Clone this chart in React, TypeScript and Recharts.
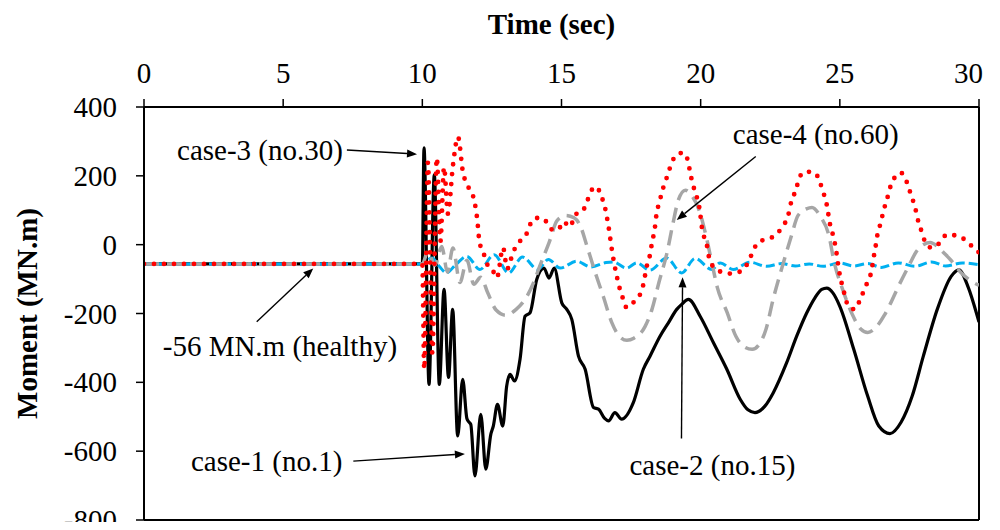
import React from 'react';
import { LineChart, Line, XAxis, YAxis, ReferenceLine } from 'recharts';

type Pt = [number, number];

const timeTicks = [0, 5, 10, 15, 20, 25, 30];
const momentTicks = [-800, -600, -400, -200, 0, 200, 400];

// [time (sec), moment (MN.m)]
const case1: Pt[] = [
  [0, -56], [10, -56], [10.06, 281], [10.24, -406], [10.43, 203], [10.61, -406],
  [10.78, -130], [10.94, -386], [11.09, -188], [11.27, -556], [11.45, -391],
  [11.6, -505], [11.67, -515], [11.74, -522], [11.89, -672], [12.1, -493],
  [12.28, -652], [12.46, -551], [12.55, -527], [12.7, -464], [12.89, -527],
  [13.03, -411], [13.15, -377], [13.31, -396], [13.51, -333], [13.69, -208],
  [13.87, -198], [14.11, -101], [14.37, -68], [14.55, -97], [14.74, -68],
  [15.01, -169], [15.19, -188], [15.37, -217], [15.61, -324], [15.85, -362],
  [16.15, -473], [16.33, -478], [16.55, -505], [16.69, -512], [16.92, -488],
  [17.16, -507], [17.58, -459], [17.94, -362], [18.18, -324], [18.54, -266],
  [18.84, -227], [19.14, -188], [19.3, -175], [19.56, -159], [19.98, -208],
  [20.46, -285], [20.94, -362], [21.42, -449], [21.7, -480], [21.95, -488],
  [22.3, -470], [22.61, -430], [23.09, -343], [23.45, -266], [23.8, -200],
  [24.1, -155], [24.35, -130], [24.53, -126], [24.75, -140], [25.0, -179],
  [25.5, -304], [26.0, -440], [26.4, -527], [26.8, -549], [27.2, -516],
  [27.6, -440], [28.0, -324], [28.5, -188], [29.0, -92], [29.28, -73],
  [29.6, -121], [30, -225],
];

const case2: Pt[] = [
  [0, -56], [10, -56], [10.1, -50], [10.34, -39], [10.6, -62], [10.87, -82],
  [11.2, -58], [11.6, -34], [12.07, -72], [12.58, -29], [13.1, -82], [13.6, -36],
  [14.15, -72], [14.53, -43], [14.95, -68], [15.55, -48], [16.05, -65], [16.6, -52],
  [16.86, -50], [17.34, -68], [17.7, -53], [18.18, -74], [18.78, -39], [19.32, -82],
  [19.8, -40], [20.4, -72], [20.7, -53], [21.17, -72], [21.77, -51], [22.37, -63],
  [22.9, -55], [23.4, -62], [23.9, -56], [24.4, -63], [25.0, -53], [25.5, -62],
  [26.0, -55], [26.5, -66], [27.1, -53], [27.7, -63], [28.3, -50], [28.8, -62],
  [29.4, -53], [30, -58],
];

const case3: Pt[] = [
  [0, -56], [10, -56], [10.07, -362], [10.2, 238], [10.36, -315], [10.52, 252],
  [10.65, 10], [10.78, 225], [10.92, 90], [11.1, 230], [11.28, 313], [11.46, 210],
  [11.65, 168], [11.86, 130], [11.97, 75], [12.05, 10], [12.2, -25], [12.35, -60],
  [12.5, -70], [12.68, -96], [12.9, -9], [13.05, -70], [13.27, -20], [13.5, 9],
  [13.8, 40], [13.95, 72], [14.2, 78], [14.4, 72], [14.62, 45], [14.88, 43],
  [15.06, 67], [15.31, 52], [15.49, 87], [15.74, 96], [15.92, 125], [16.03, 151],
  [16.24, 168], [16.44, 139], [16.57, 105], [16.69, 52], [16.82, -20], [16.99, -93],
  [17.1, -130], [17.22, -159], [17.34, -183], [17.58, -168], [17.82, -145],
  [17.94, -116], [18.06, -64], [18.18, -29], [18.24, 0], [18.36, 52], [18.42, 93],
  [18.52, 122], [18.6, 151], [18.72, 180], [18.84, 209], [18.96, 238], [19.14, 261],
  [19.38, 267], [19.56, 238], [19.62, 209], [19.71, 180], [19.8, 151], [19.92, 122],
  [19.98, 93], [20.04, 52], [20.1, 29], [20.22, 0], [20.28, -29], [20.4, -58],
  [20.52, -67], [20.7, -78], [21.06, -84], [21.42, -78], [21.66, -58], [21.83, -29],
  [22.0, 0], [22.25, 14], [22.61, 23], [22.91, 49], [23.15, 87], [23.27, 130],
  [23.45, 165], [23.51, 188], [23.75, 212], [24.1, 209], [24.29, 180], [24.41, 151],
  [24.53, 116], [24.59, 87], [24.65, 58], [24.75, 29], [24.83, 0], [24.89, -29],
  [24.95, -64], [25.01, -93], [25.1, -122], [25.19, -151], [25.31, -180],
  [25.55, -188], [25.73, -159], [25.91, -125], [26.03, -101], [26.15, -72],
  [26.2, -43], [26.27, -14], [26.33, 20], [26.42, 49], [26.51, 78], [26.6, 107],
  [26.69, 130], [26.78, 159], [26.92, 188], [27.19, 209], [27.4, 183], [27.52, 154],
  [27.64, 125], [27.74, 96], [27.82, 67], [27.94, 38], [28.06, 9], [28.3, -9],
  [28.6, 6], [28.84, 29], [29.2, 26], [29.5, 14], [29.8, -9], [30, -23],
];

const case4: Pt[] = [
  [0, -56], [10, -56], [10.2, -20], [10.45, -60], [10.7, -5], [10.9, -80],
  [11.1, -10], [11.35, -110], [11.6, -45], [11.85, -115], [12.1, -95], [12.35, -140],
  [12.65, -190], [13.0, -205], [13.37, -188], [13.73, -154], [14.0, -110],
  [14.23, -60], [14.55, 5], [14.84, 70], [15.15, 85], [15.45, 78], [15.7, 50],
  [15.88, 5], [16.2, -78], [16.5, -150], [16.8, -225], [17.1, -268], [17.35, -278],
  [17.6, -272], [18.0, -238], [18.25, -188], [18.5, -110], [18.8, -20], [19.0, 60],
  [19.2, 130], [19.45, 158], [19.7, 140], [19.95, 99], [20.2, 23], [20.4, -52],
  [20.6, -125], [20.95, -197], [21.27, -267], [21.55, -296], [21.85, -304],
  [22.1, -290], [22.35, -245], [22.6, -160], [22.93, -64], [23.25, 23], [23.5, 85],
  [23.8, 104], [24.0, 108], [24.3, 82], [24.6, 29], [24.8, -52], [25.1, -130],
  [25.45, -203], [25.75, -245], [26.0, -255], [26.3, -240], [26.6, -205],
  [26.8, -174], [27.1, -122], [27.5, -58], [27.75, -20], [28.0, 0], [28.25, 6],
  [28.5, -5], [28.75, -25], [29.0, -46], [29.35, -81], [29.8, -110], [30, -118],
];

// Callout labels: arrow tail -> arrow tip in (time, moment) units
type Note = {
  text: string;
  from: Pt;
  to: Pt;
  anchor: 'start' | 'end';
  dx: number;
  dy: number;
};

const notes: Note[] = [
  { text: 'case-3 (no.30)', from: [7.29, 275], to: [9.81, 263], anchor: 'end', dx: -4, dy: 10 },
  { text: 'case-4 (no.60)', from: [21.98, 256], to: [19.14, 72], anchor: 'start', dx: -23, dy: -13 },
  { text: 'case-2 (no.15)', from: [19.31, -563], to: [19.35, -95], anchor: 'start', dx: -52, dy: 37 },
  { text: '-56 MN.m (healthy)', from: [4.05, -224], to: [6.08, -69], anchor: 'start', dx: -94, dy: 34 },
  { text: 'case-1 (no.1)', from: [7.52, -629], to: [11.53, -608], anchor: 'end', dx: -11, dy: 10 },
];

const FONT = "'Liberation Serif', 'Times New Roman', serif";
const FS = 29;
const textStyle: React.CSSProperties = { fontFamily: FONT, fontSize: FS, fill: '#000' };
const boldStyle: React.CSSProperties = { ...textStyle, fontWeight: 'bold' };

const rows = (pts: Pt[]) => pts.map(([t, m]) => ({ t, m }));

const arrowShape = (note: Note) => (p: any) => {
  const { x1, y1, x2, y2 } = p;
  const ang = Math.atan2(y2 - y1, x2 - x1);
  const L = 10;
  const W = 4;
  const bx = x2 - L * Math.cos(ang);
  const by = y2 - L * Math.sin(ang);
  const s = Math.sin(ang);
  const c = Math.cos(ang);
  const head = `${x2},${y2} ${bx - W * s},${by + W * c} ${bx + W * s},${by - W * c}`;
  return (
    <g>
      <line x1={x1} y1={y1} x2={bx} y2={by} stroke="#000" strokeWidth={1.4} />
      <polygon points={head} fill="#000" />
      <text x={x1 + note.dx} y={y1 + note.dy} textAnchor={note.anchor} style={textStyle}>
        {note.text}
      </text>
    </g>
  );
};

const TimeTick = (props: any) => {
  const { x, y, payload } = props;
  const last = payload.value === 30;
  return (
    <text x={last ? x + 4 : x} y={y} textAnchor={last ? 'end' : 'middle'} style={textStyle}>
      {payload.value}
    </text>
  );
};

const MomentTick = (props: any) => {
  const { x, y, payload } = props;
  return (
    <text x={x} y={y} dy="0.35em" textAnchor="end" style={textStyle}>
      {payload.value}
    </text>
  );
};

const TimeTitle = (props: any) => {
  const vb = props.viewBox;
  return (
    <text x={vb.x + vb.width / 2 - 10} y={vb.y - 13} textAnchor="middle" style={boldStyle}>
      Time (sec)
    </text>
  );
};

const MomentTitle = (props: any) => {
  const vb = props.viewBox;
  const x = vb.x - 7;
  const y = vb.y + vb.height / 2;
  return (
    <text x={x} y={y} transform={`rotate(-90, ${x}, ${y})`} textAnchor="middle" style={boldStyle}>
      Moment (MN.m)
    </text>
  );
};

export default function App() {
  return (
    <div style={{ width: 984, height: 522, marginBottom: -8, fontFamily: FONT }}>
      <LineChart
        width={984}
        height={522}
        margin={{ top: 39, right: 13, bottom: 10, left: 36 }}
      >
        <XAxis
          xAxisId={0}
          dataKey="t"
          type="number"
          orientation="top"
          domain={[0, 30]}
          ticks={timeTicks}
          allowDataOverflow
          height={60}
          tickSize={8}
          tickMargin={16}
          axisLine={{ stroke: '#000', strokeWidth: 2 }}
          tickLine={{ stroke: '#000', strokeWidth: 1.5 }}
          tick={<TimeTick />}
          label={{ content: <TimeTitle /> } as any}
        />
        <YAxis
          yAxisId={0}
          type="number"
          domain={[-800, 400]}
          ticks={momentTicks}
          allowDataOverflow
          width={100}
          tickSize={8}
          tickMargin={19}
          axisLine={{ stroke: '#000', strokeWidth: 2 }}
          tickLine={{ stroke: '#000', strokeWidth: 1.5 }}
          tick={<MomentTick />}
          label={{ content: <MomentTitle /> } as any}
        />
        <ReferenceLine y={-800} stroke="#000" strokeWidth={2} />
        <ReferenceLine x={30} stroke="#000" strokeWidth={2} />

        <Line
          data={rows(case1)}
          dataKey="m"
          type="monotone"
          stroke="#000000"
          strokeWidth={3.2}
          dot={false}
          isAnimationActive={false}
          name="case-1 (no.1)"
        />
        <Line
          data={rows(case2)}
          dataKey="m"
          type="monotone"
          stroke="#00B0F0"
          strokeWidth={3}
          strokeDasharray="9 4"
          dot={false}
          isAnimationActive={false}
          name="case-2 (no.15)"
        />
        <Line
          data={rows(case4)}
          dataKey="m"
          type="monotone"
          stroke="#A6A6A6"
          strokeWidth={3.5}
          strokeDasharray="15 8"
          dot={false}
          isAnimationActive={false}
          name="case-4 (no.60)"
        />
        <Line
          data={rows(case3)}
          dataKey="m"
          type="monotone"
          stroke="#FF0000"
          strokeWidth={4.8}
          strokeDasharray="0 10"
          strokeLinecap="round"
          dot={false}
          isAnimationActive={false}
          name="case-3 (no.30)"
        />

        {notes.map((n) => (
          <ReferenceLine
            key={n.text}
            segment={[{ x: n.from[0], y: n.from[1] }, { x: n.to[0], y: n.to[1] }]}
            stroke="#000"
            shape={arrowShape(n)}
          />
        ))}
      </LineChart>
    </div>
  );
}
